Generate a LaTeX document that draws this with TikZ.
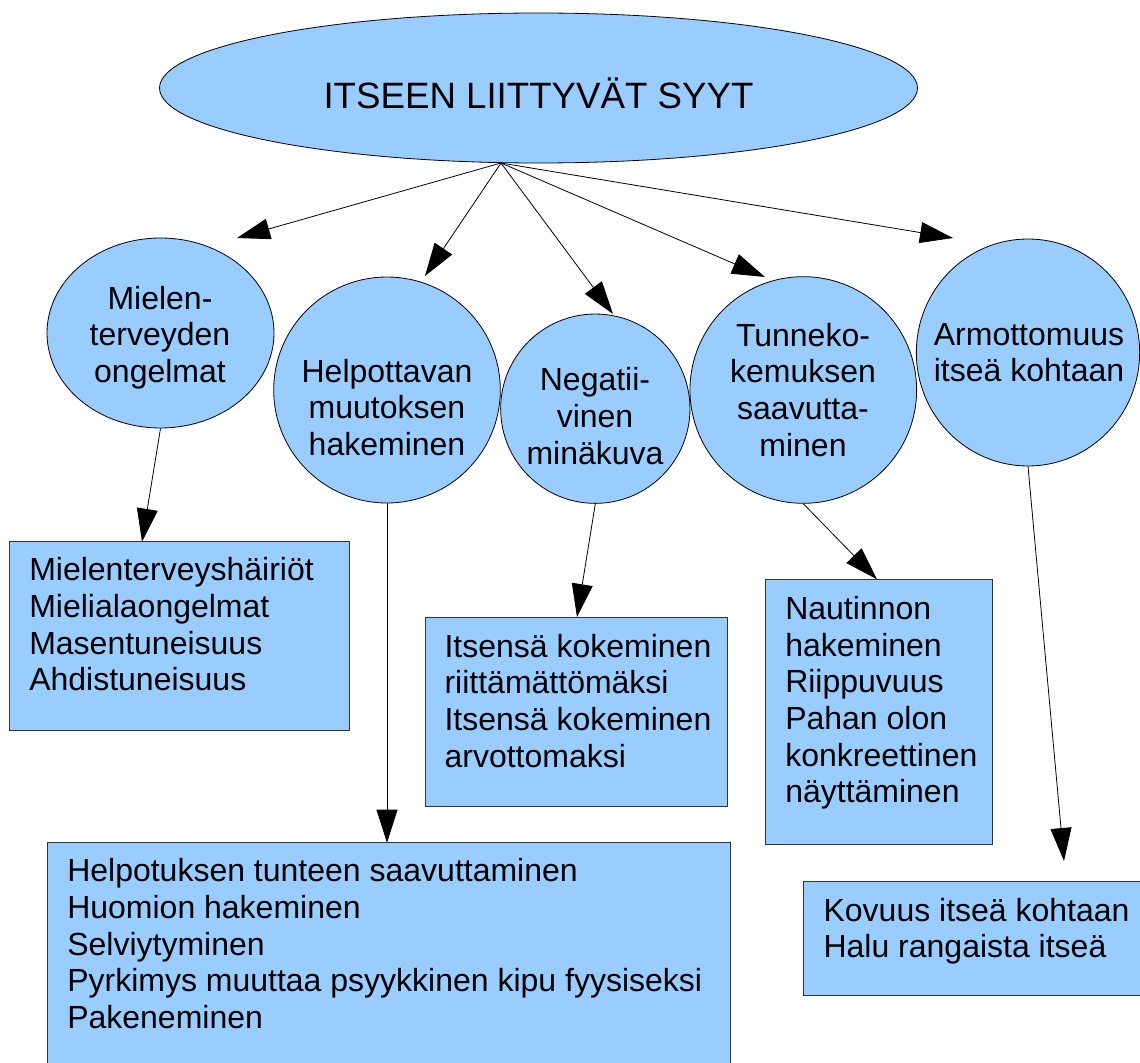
\documentclass[tikz,border=0pt]{standalone}
\usepackage{fontspec}
\setmainfont{Liberation Sans}
\usetikzlibrary{shapes.geometric,arrows.meta}
\definecolor{fillblue}{HTML}{99CCFF}
\newcommand\tstrut{\rule[-7.5pt]{0pt}{27.5pt}}
\begin{document}
\begin{tikzpicture}[x=0.75pt,y=-0.75pt,
  bubble/.style={ellipse,draw=black,fill=fillblue,line width=0.6pt,inner sep=0pt},
  listbox/.style={rectangle,draw=black!80,fill=fillblue,line width=0.6pt,inner sep=0pt},
  bubtext/.style={inner sep=0pt,align=center,anchor=north,font=\fontsize{24pt}{27.5pt}\selectfont},
  boxtext/.style={inner sep=0pt,align=left,anchor=north west,font=\fontsize{24pt}{27.5pt}\selectfont},
  arr/.style={draw=black,line width=0.6pt,-{Triangle[length=24.75pt,width=15.75pt]}}]
\useasboundingbox (0,0) rectangle (1140,1063);
\clip (0,0) rectangle (1140,1063);

% title ellipse
\node[bubble,minimum width=568.5pt,minimum height=112.5pt] (title) at (538.5,88) {};
\node[inner sep=0pt,anchor=base,font=\fontsize{27.5pt}{33pt}\selectfont] (titletext) at (538.5,108.3) {ITSEEN LIITTYVÄT SYYT};

% second-level ellipses
\node[bubble,minimum width=170.25pt,minimum height=142.5pt] (mielen) at (160.5,333) {};
\node[bubble,minimum width=170pt,minimum height=169.5pt] (help) at (387,390) {};
\node[bubble,minimum width=142pt,minimum height=142pt] (neg) at (595.3,408.7) {};
\node[bubble,minimum width=170pt,minimum height=170pt] (tunne) at (803.3,390) {};
\node[bubble,minimum width=167.5pt,minimum height=170.25pt] (armo) at (1028,352.5) {};

\node[bubtext] (tmielen) at (160,282.3) {\tstrut Mielen-\\terveyden\\ongelmat};
\node[bubtext] (thelp) at (387,355.3) {\tstrut Helpottavan\\muutoksen\\hakeminen};
\node[bubtext] (tneg) at (595,364) {\tstrut Negatii-\\vinen\\minäkuva};
\node[bubtext] (ttunne) at (803,319.3) {\tstrut Tunneko-\\kemuksen\\saavutta-\\minen};
\node[bubtext] (tarmo) at (1029,318.3) {\tstrut Armottomuus\\itseä kohtaan};

% boxes
\node[listbox,minimum width=255.2pt,minimum height=141.2pt] (box1) at (179.2,635.9) {};
\node[listbox,minimum width=227pt,minimum height=141.75pt] (box2) at (576.4,711.5) {};
\node[listbox,minimum width=170pt,minimum height=198.5pt] (box3) at (879,711.7) {};
\node[listbox,minimum width=512.6pt,minimum height=185.5pt] (box4) at (388.8,966.4) {};
\node[listbox,minimum width=260pt,minimum height=85pt] (box5) at (976.7,938.4) {};

\node[boxtext] (tbox1) at (29,554) {\tstrut Mielenterveyshäiriöt\\Mielialaongelmat\\Masentuneisuus\\Ahdistuneisuus};
\node[boxtext] (tbox2) at (444.3,630.3) {\tstrut Itsensä kokeminen\\riittämättömäksi\\Itsensä kokeminen\\arvottomaksi};
\node[boxtext] (tbox3) at (785,592.6) {\tstrut Nautinnon\\hakeminen\\Riippuvuus\\Pahan olon\\konkreettinen\\näyttäminen};
\node[boxtext] (tbox4) at (67,855) {\tstrut Helpotuksen tunteen saavuttaminen\\Huomion hakeminen\\Selviytyminen\\Pyrkimys muuttaa psyykkinen kipu fyysiseksi\\Pakeneminen};
\node[boxtext] (tbox5) at (823.3,894.3) {\tstrut Kovuus itseä kohtaan\\Halu rangaista itseä};

% connector end points
\coordinate (O) at (501,163);
\coordinate (t1) at (237,238);
\coordinate (t2) at (425,276);
\coordinate (t3) at (613,314);
\coordinate (t4) at (765,277);
\coordinate (t5) at (953,238);
\coordinate (bm) at (142,541.7);
\coordinate (bh) at (387,842.7);
\coordinate (bn) at (577,617);
\coordinate (bt) at (877,579.3);
\coordinate (ba) at (1064,861);

% connectors
\draw[arr] (O) -- (t1);
\draw[arr] (O) -- (t2);
\draw[arr] (O) -- (t3);
\draw[arr] (O) -- (t4);
\draw[arr] (O) -- (t5);
\draw[arr] (mielen.south) -- (bm);
\draw[arr] (help.south) -- (bh);
\draw[arr] (neg.south) -- (bn);
\draw[arr] (tunne.south) -- (bt);
\draw[arr] (armo.south) -- (ba);
\end{tikzpicture}
\end{document}
